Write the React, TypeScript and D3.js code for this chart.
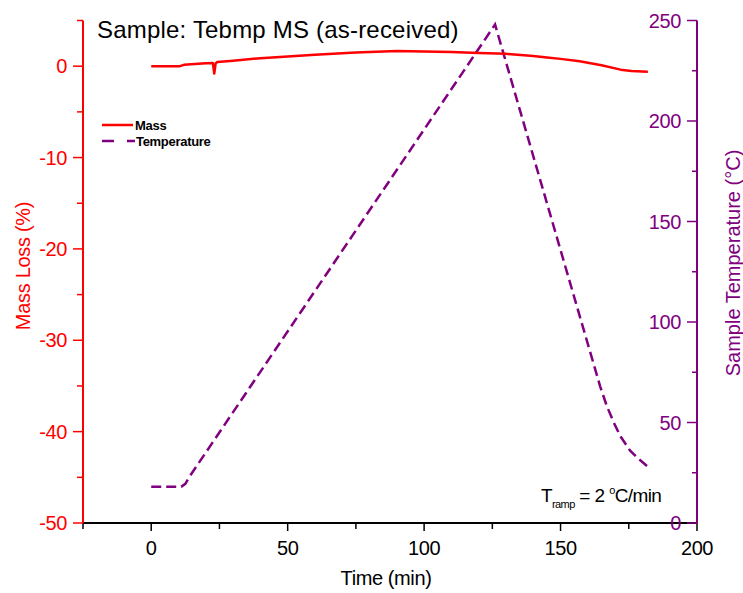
import React from "react";
import * as d3 from "d3";

const timeTicks = [0, 50, 100, 150, 200];
const timeMinor = [-25, 25, 75, 125, 175];
const massTicks = [-50, -40, -30, -20, -10, 0];
const massMinor = [-45, -35, -25, -15, -5, 5];
const tempTicks = [0, 50, 100, 150, 200, 250];
const tempMinor = [25, 75, 125, 175, 225];

const massTime = [0, 10.5, 12, 16, 20, 22.6, 23.1, 23.6, 24.2, 30, 40, 50, 60, 75, 90, 100, 110, 120, 130, 140, 145, 150, 157, 165, 172, 176, 182];
const massValue = [0, 0, 0.15, 0.25, 0.33, 0.35, -0.8, 0.3, 0.45, 0.6, 0.88, 1.05, 1.25, 1.5, 1.65, 1.62, 1.55, 1.44, 1.35, 1.12, 0.95, 0.8, 0.53, 0.1, -0.38, -0.52, -0.6];

const tempTime = [0, 11, 12.5, 14, 126, 164.5, 167, 169.5, 172, 175.5, 178.5, 182];
const tempValue = [18, 18, 19.5, 23, 248, 68, 58, 50, 43, 36, 32, 28];

const RED = "#ff0000";
const PURPLE = "#800080";
const FONT = "'Liberation Sans', Arial, sans-serif";

export default function App() {
  const x = d3.scaleLinear().domain([-25, 200]).range([83, 697]);
  const yMass = d3.scaleLinear().domain([-50, 5]).range([523, 20.5]);
  const yTemp = d3.scaleLinear().domain([0, 250]).range([523, 20.5]);

  const massLine = d3
    .line<number>()
    .x((_, i) => x(massTime[i]))
    .y((d) => yMass(d))(massValue) as string;
  const tempLine = d3
    .line<number>()
    .x((_, i) => x(tempTime[i]))
    .y((d) => yTemp(d))(tempValue) as string;

  const left = x.range()[0];
  const right = x.range()[1];
  const bottom = yMass.range()[0];
  const top = yMass.range()[1];

  return (
    <svg
      width={743}
      height={593}
      style={{ position: "absolute", left: 0, top: 0, background: "#fff" }}
      fontFamily={FONT}
    >
      <rect width={743} height={593} fill="#fff" />
      {/* data */}
      <path d={tempLine} fill="none" stroke={PURPLE} strokeWidth={2.5} strokeDasharray="10,5" />
      <path d={massLine} fill="none" stroke={RED} strokeWidth={2.5} strokeLinejoin="round" />

      {/* bottom axis */}
      <line x1={left} x2={right} y1={bottom} y2={bottom} stroke="#000" strokeWidth={2} />
      {timeTicks.map((t) => (
        <g key={"bt" + t}>
          <line x1={x(t)} x2={x(t)} y1={bottom} y2={bottom + 8} stroke="#000" strokeWidth={1.5} />
          <text x={x(t)} y={bottom + 32} textAnchor="middle" fontSize={20} letterSpacing={-0.4} fill="#000">
            {t}
          </text>
        </g>
      ))}
      {timeMinor.map((t) => (
        <line key={"bm" + t} x1={x(t)} x2={x(t)} y1={bottom} y2={bottom + 6} stroke="#000" strokeWidth={1.5} />
      ))}
      <text x={386} y={585} textAnchor="middle" fontSize={20} letterSpacing={-0.4} fill="#000">
        Time (min)
      </text>

      {/* left axis */}
      <line x1={left} x2={left} y1={top} y2={bottom} stroke={RED} strokeWidth={2} />
      {massTicks.map((t) => (
        <g key={"lt" + t}>
          <line x1={left - 10} x2={left} y1={yMass(t)} y2={yMass(t)} stroke={RED} strokeWidth={1.5} />
          <text x={left - 16} y={yMass(t) + 7} textAnchor="end" fontSize={20} letterSpacing={-0.4} fill={RED}>
            {t}
          </text>
        </g>
      ))}
      {massMinor.map((t) => (
        <line key={"lm" + t} x1={left - 6} x2={left} y1={yMass(t)} y2={yMass(t)} stroke={RED} strokeWidth={1.5} />
      ))}
      <text
        transform={`translate(30,266) rotate(-90)`}
        textAnchor="middle"
        fontSize={20}
        letterSpacing={-0.3}
        fill={RED}
      >
        Mass Loss (%)
      </text>

      {/* right axis */}
      <line x1={right} x2={right} y1={top} y2={bottom} stroke={PURPLE} strokeWidth={2} />
      {tempTicks.map((t) => (
        <g key={"rt" + t}>
          <line x1={right - 10} x2={right} y1={yTemp(t)} y2={yTemp(t)} stroke={PURPLE} strokeWidth={1.5} />
          <text x={right - 16} y={yTemp(t) + 7} textAnchor="end" fontSize={20} letterSpacing={-0.4} fill={PURPLE}>
            {t}
          </text>
        </g>
      ))}
      {tempMinor.map((t) => (
        <line key={"rm" + t} x1={right - 5} x2={right} y1={yTemp(t)} y2={yTemp(t)} stroke={PURPLE} strokeWidth={1.5} />
      ))}
      <text
        transform={`translate(740,263) rotate(-90)`}
        textAnchor="middle"
        fontSize={20}
        letterSpacing={0}
        fill={PURPLE}
      >
        Sample Temperature (°C)
      </text>

      {/* title */}
      <text x={97} y={38} fontSize={24} letterSpacing={0.2} fill="#000">
        Sample: Tebmp MS (as-received)
      </text>

      {/* legend */}
      <line x1={102} x2={133} y1={125} y2={125} stroke={RED} strokeWidth={2.5} />
      <text x={135} y={130} fontSize={13} fontWeight="bold" letterSpacing={-0.3} fill="#000">
        Mass
      </text>
      <line x1={102} x2={135} y1={141} y2={141} stroke={PURPLE} strokeWidth={2.5} strokeDasharray="12,13" />
      <text x={136} y={145.5} fontSize={13} fontWeight="bold" letterSpacing={-0.3} fill="#000">
        Temperature
      </text>

      {/* annotation */}
      <text x={541} y={502} fontSize={19} letterSpacing={-0.6} fill="#000">
        T
        <tspan fontSize={11} dy={6}>ramp</tspan>
        <tspan dy={-6}> = 2 </tspan>
        <tspan fontSize={11} dy={-8}>o</tspan>
        <tspan dy={8}>C/min</tspan>
      </text>
    </svg>
  );
}
